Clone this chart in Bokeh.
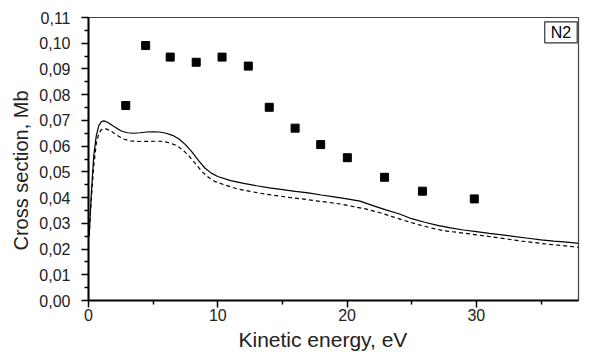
from bokeh.plotting import figure
from bokeh.models import Range1d, FixedTicker, CustomJSTickFormatter, Label, Title
from bokeh.embed import file_html
from bokeh.resources import INLINE

# Experimental points
exp_x = [2.88, 4.42, 6.32, 8.33, 10.33, 12.36, 13.98, 15.98, 17.96, 20.02, 22.9, 25.83, 29.84]
exp_y = [0.0758, 0.0991, 0.0946, 0.0926, 0.0946, 0.0911, 0.0751, 0.0670, 0.0606, 0.0555, 0.0479, 0.0425, 0.0395]

# Solid theory curve
solid_x = [0.05, 0.2, 0.4, 0.6, 0.8, 1.0, 1.2, 1.5, 2.0, 2.5, 3.0, 3.5, 4.0, 4.5, 5.0, 5.5, 6.0,
           6.5, 7.0, 7.5, 8.0, 8.5, 9.0, 9.5, 10.0, 11.0, 12.0, 13.0, 14.0, 15.0, 16.0, 17.0,
           18.0, 19.0, 20.0, 21.0, 22.0, 23.0, 24.0, 25.0, 26.0, 27.0, 28.0, 29.0, 30.0, 31.0,
           32.0, 33.0, 34.0, 35.0, 36.0, 37.0, 38.0]
solid_y = [0.025, 0.040, 0.056, 0.064, 0.0680, 0.0695, 0.0698, 0.0692, 0.0675, 0.0660, 0.0652,
           0.0650, 0.0652, 0.0655, 0.0656, 0.0655, 0.0650, 0.0642, 0.0628, 0.0606, 0.0578, 0.0545,
           0.0515, 0.0495, 0.0482, 0.0466, 0.0455, 0.0446, 0.0438, 0.0431, 0.0424, 0.0418, 0.0410,
           0.0403, 0.0395, 0.0386, 0.0369, 0.0352, 0.0337, 0.0318, 0.0304, 0.0292, 0.0282, 0.0274,
           0.0268, 0.0261, 0.0255, 0.0248, 0.0242, 0.0236, 0.0231, 0.0227, 0.0222]

# Dashed theory curve
dash_x = [0.05, 0.2, 0.4, 0.6, 0.8, 1.0, 1.3, 1.7, 2.2, 2.7, 3.2, 4.0, 5.0, 5.6, 6.2, 6.8, 7.3,
          7.8, 8.3, 8.8, 9.3, 9.8, 10.5, 11.5, 12.5, 13.5, 14.5, 15.5, 16.5, 17.5, 18.5, 19.5,
          20.5, 21.5, 22.5, 23.5, 24.5, 25.5, 26.5, 27.5, 28.5, 29.5, 30.5, 31.5, 32.5, 33.5,
          34.5, 35.5, 36.5, 37.5, 38.0]
dash_y = [0.025, 0.038, 0.052, 0.061, 0.0650, 0.0664, 0.0668, 0.0660, 0.0642, 0.0628, 0.0620,
          0.0618, 0.0619, 0.0619, 0.0614, 0.0603, 0.0585, 0.0560, 0.0530, 0.0500, 0.0478, 0.0462,
          0.0450, 0.0434, 0.0424, 0.0415, 0.0408, 0.0401, 0.0395, 0.0388, 0.0382, 0.0375, 0.0365,
          0.0355, 0.0342, 0.0326, 0.0310, 0.0295, 0.0282, 0.0271, 0.0265, 0.0259, 0.0252, 0.0245,
          0.0238, 0.0231, 0.0225, 0.0219, 0.0214, 0.0209, 0.0207]

y_ticks = [0.0, 0.01, 0.02, 0.03, 0.04, 0.05, 0.06, 0.07, 0.08, 0.09, 0.10, 0.11]
y_minor = [0.005, 0.015, 0.025, 0.035, 0.045, 0.055, 0.065, 0.075, 0.085, 0.095, 0.105]
x_ticks = [0, 10, 20, 30]
x_minor = [5, 15, 25, 35]

x_title = "Kinetic energy, eV"
y_title = "Cross section, Mb"
panel_tag = "N2"

FONT = "Liberation Sans"

p = figure(width=595, height=357, output_backend="svg", toolbar_location=None,
           x_range=Range1d(0, 37.9), y_range=Range1d(0, 0.11),
           min_border_left=88, min_border_right=17, min_border_top=17, min_border_bottom=57)
p.grid.visible = False
p.outline_line_color = "#444444"
p.outline_line_width = 1.2

p.line(solid_x, solid_y, line_color="black", line_width=1.2)
p.line(dash_x, dash_y, line_color="black", line_width=1.2, line_dash="4 3")
p.scatter(exp_x, exp_y, marker="square", size=8, color="black")

p.xaxis.ticker = FixedTicker(ticks=x_ticks, minor_ticks=x_minor)
p.yaxis.ticker = FixedTicker(ticks=y_ticks, minor_ticks=y_minor)
p.yaxis.formatter = CustomJSTickFormatter(code="return tick.toFixed(2).replace('.', ',');")

for ax in (p.xaxis[0], p.yaxis[0]):
    ax.axis_line_color = "black"
    ax.axis_line_width = 2
    ax.major_tick_line_color = "black"
    ax.major_tick_line_width = 1.5
    ax.minor_tick_line_color = "black"
    ax.minor_tick_line_width = 1.5
    ax.major_tick_out = 7
    ax.major_tick_in = 0
    ax.minor_tick_out = 4
    ax.minor_tick_in = 0
    ax.major_label_text_font = FONT
    ax.major_label_text_font_size = "16px"
    ax.major_label_text_color = "#222222"

p.xaxis.major_label_standoff = 1
p.yaxis.major_label_standoff = 11

# Axis titles as side-panel titles, shifted like in the reference
p.add_layout(Title(text=x_title, align="left", offset=150, standoff=5,
                   text_font=FONT, text_font_size="21px", text_font_style="normal",
                   text_color="#222222"), "below")
p.add_layout(Title(text=y_title, align="left", offset=50, standoff=10,
                   text_font=FONT, text_font_size="20px", text_font_style="normal",
                   text_color="#222222"), "left")

lbl = Label(x=37.8, y=0.1083, text=panel_tag, text_align="right", text_baseline="top",
            text_font=FONT, text_font_size="16px", text_color="black",
            border_line_color="#333333", border_line_width=1.2,
            background_fill_color="white",
            padding=dict(left=6, right=6, top=2, bottom=2))
p.add_layout(lbl)

open("out.html", "w").write(file_html(p, INLINE))
